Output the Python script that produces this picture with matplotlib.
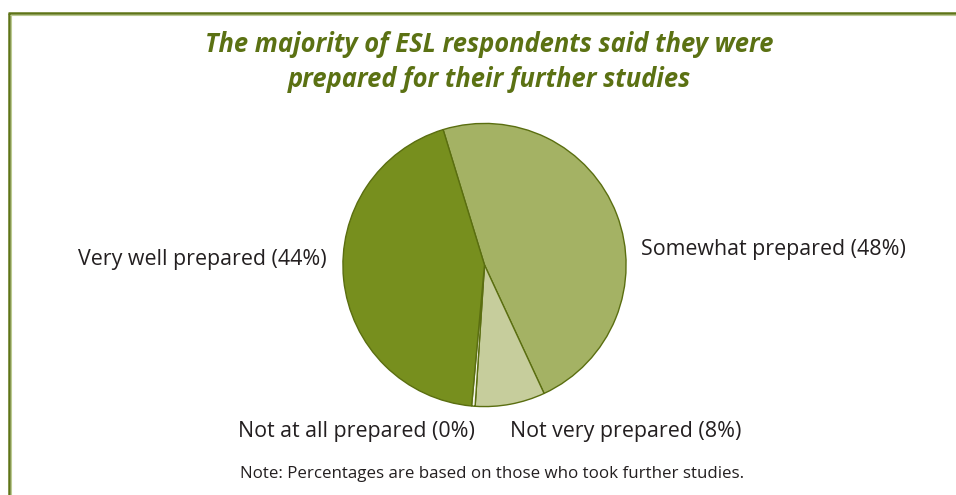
import matplotlib
matplotlib.use("Agg")
import matplotlib.pyplot as plt
from matplotlib.lines import Line2D

# Survey responses (percent of those who took further studies)
categories = ["Somewhat prepared", "Not very prepared", "Not at all prepared", "Very well prepared"]
shares = [48, 8, 0.4, 44]
colors = ["#a4b264", "#c6cd9c", "#f4f5ea", "#778f1e"]

title = "The majority of ESL respondents said they were\nprepared for their further studies"
note = "Note: Percentages are based on those who took further studies."

W, H = 956, 495
fig = plt.figure(figsize=(W / 100, H / 100), dpi=100)
fig.patch.set_facecolor("white")

# Frame along the top and left edges
dark, light = "#5e7417", "#bccb92"
fig.add_artist(Line2D([9 / W, 9 / W], [0, 1 - 13 / H], transform=fig.transFigure,
                      color=dark, lw=1.8, solid_capstyle="butt"))
fig.add_artist(Line2D([10.6 / W, 10.6 / W], [0, 1 - 14.5 / H], transform=fig.transFigure,
                      color=light, lw=0.8, solid_capstyle="butt"))
fig.add_artist(Line2D([8.1 / W, 1], [1 - 13 / H, 1 - 13 / H], transform=fig.transFigure,
                      color=dark, lw=1.8, solid_capstyle="butt"))
fig.add_artist(Line2D([10.2 / W, 1], [1 - 14.6 / H, 1 - 14.6 / H], transform=fig.transFigure,
                      color=light, lw=0.8, solid_capstyle="butt"))

# Pie
cx, cy, r = 484.5, 265, 143
ax = fig.add_axes([(cx - r) / W, (H - cy - r) / H, 2 * r / W, 2 * r / H])
ax.pie(shares, colors=colors, startangle=107, counterclock=False,
       wedgeprops=dict(edgecolor="#5a6e10", linewidth=1.0))
ax.set_xlim(-1.01, 1.01)
ax.set_ylim(-1.01, 1.01)
ax.set_aspect("equal")
ax.axis("off")

fig.text(489 / W, 1 - 62 / H, title, ha="center", va="center", fontsize=18.4,
         fontweight="bold", fontstyle="italic", color="#5b7113",
         family="Open Sans", linespacing=1.42)

labels = [f"{c} ({round(v)}%)" for c, v in zip(categories, shares)]
txt = dict(fontsize=15.4, color="#231f20", family="Open Sans")
fig.text(641 / W, 1 - 249 / H, labels[0], ha="left", va="center", **txt)
fig.text(510 / W, 1 - 432 / H, labels[1], ha="left", va="center", **txt)
fig.text(475 / W, 1 - 432 / H, labels[2], ha="right", va="center", **txt)
fig.text(327 / W, 1 - 259 / H, labels[3], ha="right", va="center", **txt)

fig.text(492 / W, 1 - 474 / H, note, ha="center", va="center", fontsize=12.2,
         color="#231f20", family="Open Sans")

fig.savefig("out.png", dpi=100, facecolor="white")
